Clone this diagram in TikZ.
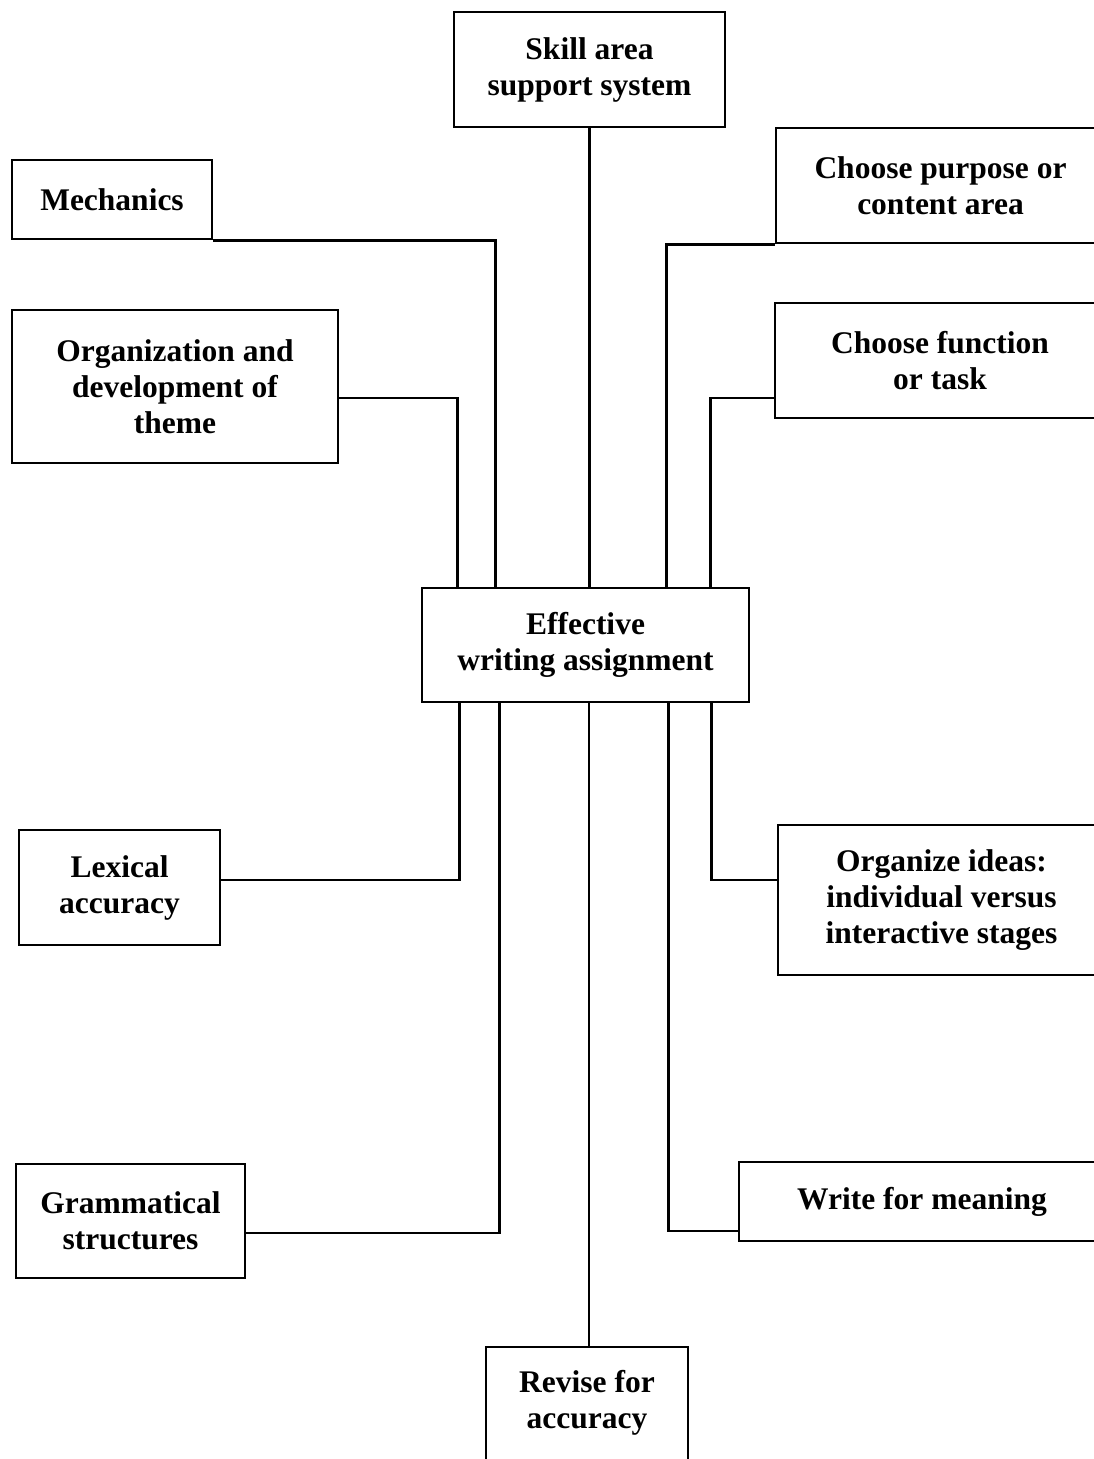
\documentclass[tikz,border=0pt]{standalone}
\usepackage{fontspec}
\setmainfont{Liberation Serif}
\usetikzlibrary{calc}
\begin{document}
\begin{tikzpicture}[x=1pt,y=-1pt,
  txt/.style={font=\fontsize{31.5}{36}\selectfont\bfseries, align=center},
  box/.style={draw, line width=2.7pt, inner sep=0pt, txt},
  link/.style={line width=2.7pt}]
\useasboundingbox (0,0) rectangle (1094,1459);
\clip (0,0) rectangle (1094,1459);
\fill[white] (0,0) rectangle (1094,1459);
% nodes
\node[box, minimum width=271pt, minimum height=115pt] (skill) at (589.5,69.5) {Skill area\\support system};
\node[box, minimum width=200pt, minimum height=79pt] (mech) at (112,199.5) {Mechanics};
\node[box, minimum width=329pt, minimum height=115pt] (purp) at (940.5,185.5) {Choose purpose or\\content area};
\node[box, minimum width=326pt, minimum height=153pt] (org) at (175,386.5) {Organization and\\development of\\theme};
\node[box, minimum width=330pt, minimum height=115pt] (func) at (940,360.5) {Choose function\\or task};
\node[box, minimum width=327pt, minimum height=114pt] (eff) at (585.5,645) {Effective\\writing assignment};
\node[box, minimum width=201pt, minimum height=115pt] (lex) at (119.5,887.5) {Lexical\\accuracy};
\node[box, minimum width=327pt, minimum height=150pt] (orgi) at (941.5,900) {Organize ideas:\\individual versus\\interactive stages};
\node[box, minimum width=229pt, minimum height=114pt] (gram) at (130.5,1221) {Grammatical\\structures};
\node[box, minimum width=366pt, minimum height=79pt] (wfm) at (922,1201.5) {Write for meaning};
\node[box, minimum width=202pt, minimum height=130pt,
  label={[txt, yshift=9pt]center:Revise for\\accuracy}] (rev) at (587,1412) {};
% connectors
\draw[link] (skill.south) -- (skill.south |- eff.north);
\draw[link] (mech.south east) -| ($(eff.north west)+(75,0)$);
\draw[link] ($(org.east)+(0,11.5)$) -| ($(eff.north west)+(37,0)$);
\draw[link] (purp.south west) -| ($(eff.north west)+(246,0)$);
\draw[link] ($(func.west)+(0,37.5)$) -| ($(eff.north west)+(290,0)$);
\draw[link] ($(lex.east)+(0,-7.5)$) -| ($(eff.south west)+(39,0)$);
\draw[link] ($(gram.east)+(0,12)$) -| ($(eff.south west)+(79,0)$);
\draw[link] ($(orgi.west)+(0,-20)$) -| ($(eff.south west)+(291,0)$);
\draw[link] ($(wfm.west)+(0,29.5)$) -| ($(eff.south west)+(248,0)$);
\draw[link] (rev.north -| 589,0) -- (eff.south -| 589,0);
\end{tikzpicture}
\end{document}
